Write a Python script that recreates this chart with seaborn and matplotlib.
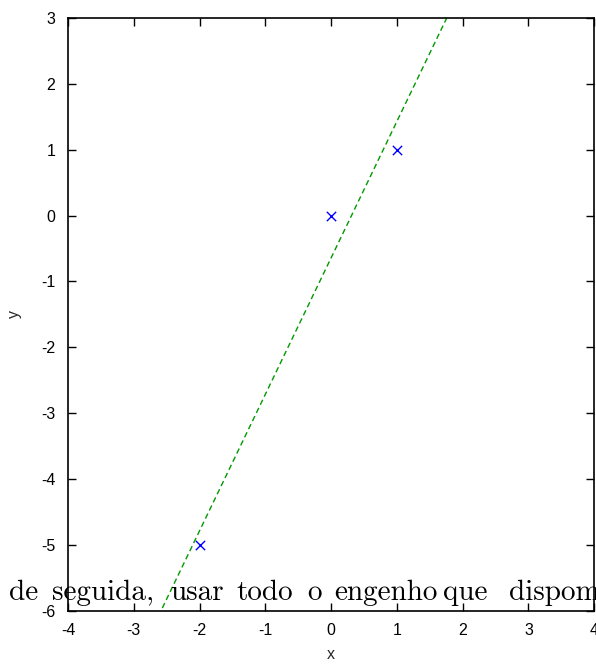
import numpy as np
import pandas as pd
import seaborn as sns
import matplotlib.pyplot as plt

# datos (puntos)
x_vals = [-2, 0, 1]
y_vals = [-5, 0, 1]
x_ticks = [-4, -3, -2, -1, 0, 1, 2, 3, 4]
y_ticks = [-6, -5, -4, -3, -2, -1, 0, 1, 2, 3]
# texto que se cuela en la figura (palabras sueltas, justificado)
words = ["de", "seguida,", "usar", "todo", "o", "engenho", "que", "dispom"]
word_px = [9, 52, 170, 236, 307, 334, 443, 509]

data = pd.DataFrame({"x": x_vals, "y": y_vals})

sns.set_theme(style="ticks")
plt.rcParams['font.family'] = ['Liberation Sans', 'DejaVu Sans']
plt.rcParams['axes.unicode_minus'] = False

W, H = 596, 664
fig = plt.figure(figsize=(W / 100, H / 100), dpi=100)
ax = fig.add_axes([0.114, 0.080, 0.883, 0.893])
ax.set_xlim(-4, 4)
ax.set_ylim(-6, 3)

# recta de ajuste por mínimos cuadrados (regplot la calcula)
sns.regplot(x="x", y="y", data=data, ax=ax, ci=None, truncate=False,
            marker="x",
            scatter_kws={"color": "#0000ff", "s": 45, "linewidths": 1.0, "alpha": 1},
            line_kws={"color": "#009900", "linestyle": (0, (4, 2.5)), "linewidth": 1.0})

ax.set_xlim(-4, 4)
ax.set_ylim(-6, 3)
ax.set_xticks(x_ticks)
ax.set_yticks(y_ticks)
ax.tick_params(direction="in", length=6, width=1, top=True, right=True,
               labelsize=11.5, colors="black", pad=9)
for s in ax.spines.values():
    s.set_linewidth(1.2)
    s.set_color("black")
ax.set_xlabel("x", fontsize=11.5, labelpad=6)
ax.set_ylabel("y", fontsize=11.5, labelpad=14)

for w, px in zip(words, word_px):
    fig.text(px / W, 1 - 600 / H, w, fontfamily="cmr10", fontsize=21,
             ha="left", va="baseline", color="black")

fig.savefig("out.png", dpi=100)
